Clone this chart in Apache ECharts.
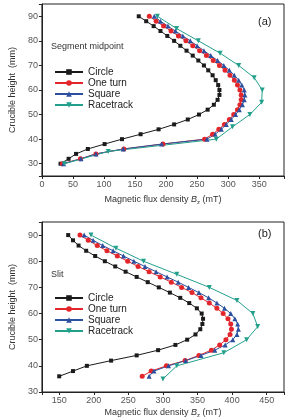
<!DOCTYPE html>
<html>
<head>
<meta charset="UTF-8">
<title>Bz distribution</title>
<script src="https://cdn.jsdelivr.net/npm/echarts@6/dist/echarts.min.js"></script>
<style>
html, body { margin: 0; padding: 0; background: #fff; }
#myChart { width: 288px; height: 419px; }
</style>
</head>
<body>
<div id="myChart"></div>
<script>
var names = ['Circle', 'One turn', 'Square', 'Racetrack'];

// (a) segment midpoint, heights in mm
var heightA = [30,32,34,36,38,40,42,44,46,48,50,52,54,56,58,60,62,64,66,68,70,72,74,76,78,80,82,84,86,88,90];
var circleA = [30,43,55,74,101,129,159,188,213,235,253,267,277,283,286,286,284,280,275,268,261,252,243,233,223,213,202,191,180,168,156];
var oneTurnA = [33,62,87,132,195,262,275,285,294,302,309,315,319,321,321,319,315,310,303,295,286,276,265,254,243,232,220,208,196,184,173];
var squareA = [35,63,87,131,193,266,279,289,297,305,312,318,323,326,327,326,322,317,310,302,293,283,272,261,250,239,227,215,203,191,181];
var heightRA = [30,35,40,45,50,55,60,65,70,75,80,85,90];
var racetrackA = [36,107,281,307,335,354,355,342,317,287,252,217,186];

// (b) slit
var heightB = [36,38,40,42,44,46,48,50,52,54,56,58,60,62,64,66,68,70,72,74,76,78,80,82,84,86,88,90];
var circleB = [150,170,190,225,262,293,318,335,347,354,357,358,356,349,338,325,310,294,278,262,246,231,216,202,189,178,170,163];
var oneTurnB = [270,283,305,332,352,370,382,391,397,399,398,394,387,378,367,355,342,327,312,296,280,264,249,234,219,205,192,180];
var squareB = [280,287,308,333,355,375,390,401,407,409,408,404,398,389,378,366,352,337,322,306,290,274,258,243,228,213,199,186];
var heightRB = [35,40,45,50,55,60,65,70,75,80,85,90];
var racetrackB = [300,320,388,421,437,430,407,367,320,272,232,196];

var colors = ['#1b1b1b', '#e3262c', '#2c4f9e', '#23a08c'];
var symbols = ['rect', 'circle', 'triangle', 'triangle'];
var sizes = [4, 5, 5, 5];

function pairs(h, v) {
    var out = [];
    for (var i = 0; i < v.length; i++) out.push([v[i], h[i]]);
    return out;
}

function mkSeries(k, data, idx) {
    return {
        name: names[k],
        type: 'line',
        xAxisIndex: idx,
        yAxisIndex: idx,
        data: data,
        symbol: symbols[k],
        symbolSize: sizes[k],
        symbolRotate: k == 3 ? 180 : 0,
        showAllSymbol: true,
        lineStyle: { color: colors[k], width: 1 },
        itemStyle: { color: colors[k] },
        animation: false
    };
}

function tenOnly(v) { return v % 10 == 0 ? v : ''; }
function fiftyOnly(v) { return v % 50 == 0 ? v : ''; }

var axisCommon = {
    axisLine: { lineStyle: { color: '#222', width: 1 } },
    axisTick: { inside: false, length: 3, lineStyle: { color: '#222' } },
    splitLine: { show: false },
    axisLabel: { fontSize: 9, color: '#555', margin: 4, fontFamily: 'Liberation Sans' }
};

function xAxis(idx, min, max, gap) {
    return echarts.util.merge({
        type: 'value', gridIndex: idx, min: min, max: max, splitNumber: 7,
        name: '{n|Magnetic flux density }{i|B}{s|z}{n| (mT)}',
        nameLocation: 'middle', nameGap: gap,
        nameTextStyle: {
            fontFamily: 'Liberation Sans', color: '#333',
            rich: {
                n: { fontSize: 9, color: '#333' },
                i: { fontSize: 9, color: '#333', fontStyle: 'italic' },
                s: { fontSize: 6, color: '#333', padding: [5, 0, 0, 0] }
            }
        },
        axisLabel: { formatter: fiftyOnly }
    }, echarts.util.clone(axisCommon), false);
}

function yAxis(idx, min, max) {
    return echarts.util.merge({
        type: 'value', gridIndex: idx, min: min, max: max, splitNumber: 7,
        name: 'Crucible height  (mm)',
        nameLocation: 'middle', nameGap: 19,
        nameTextStyle: { fontSize: 9, color: '#333', fontFamily: 'Liberation Sans' },
        axisLabel: { formatter: tenOnly }
    }, echarts.util.clone(axisCommon), false);
}

function legendAt(top) {
    return {
        orient: 'vertical', left: 54, top: top, padding: 0,
        itemWidth: 28, itemHeight: 7, itemGap: 1,
        textStyle: { fontSize: 10, lineHeight: 10, color: '#222', fontFamily: 'Liberation Sans' },
        data: names
    };
}

var chart = echarts.init(document.getElementById('myChart'), null, { renderer: 'canvas' });

var option = {
    backgroundColor: '#fff',
    animation: false,
    title: [
        { text: 'Segment midpoint', left: 51, top: 42, padding: 0,
          textStyle: { fontSize: 9, fontWeight: 'normal', color: '#333', fontFamily: 'Liberation Sans' } },
        { text: '(a)', left: 258, top: 16, padding: 0,
          textStyle: { fontSize: 11, fontWeight: 'normal', color: '#222', fontFamily: 'Liberation Sans' } },
        { text: 'Slit', left: 51, top: 270, padding: 0,
          textStyle: { fontSize: 9, fontWeight: 'normal', color: '#333', fontFamily: 'Liberation Sans' } },
        { text: '(b)', left: 258, top: 228, padding: 0,
          textStyle: { fontSize: 11, fontWeight: 'normal', color: '#222', fontFamily: 'Liberation Sans' } }
    ],
    legend: [legendAt(67), legendAt(293)],
    grid: [
        { left: 33, right: 4, top: 4, height: 172, show: true, borderColor: '#222', borderWidth: 1 },
        { left: 32, right: 4, top: 222, height: 171, show: true, borderColor: '#222', borderWidth: 1 }
    ],
    xAxis: [xAxis(0, 0, 390, 18), xAxis(1, 125, 475, 15)],
    yAxis: [yAxis(0, 25, 95), yAxis(1, 30, 95)],
    series: [
        mkSeries(0, pairs(heightA, circleA), 0),
        mkSeries(1, pairs(heightA, oneTurnA), 0),
        mkSeries(2, pairs(heightA, squareA), 0),
        mkSeries(3, pairs(heightRA, racetrackA), 0),
        mkSeries(0, pairs(heightB, circleB), 1),
        mkSeries(1, pairs(heightB, oneTurnB), 1),
        mkSeries(2, pairs(heightB, squareB), 1),
        mkSeries(3, pairs(heightRB, racetrackB), 1)
    ]
};
chart.setOption(option);
</script>
</body>
</html>
